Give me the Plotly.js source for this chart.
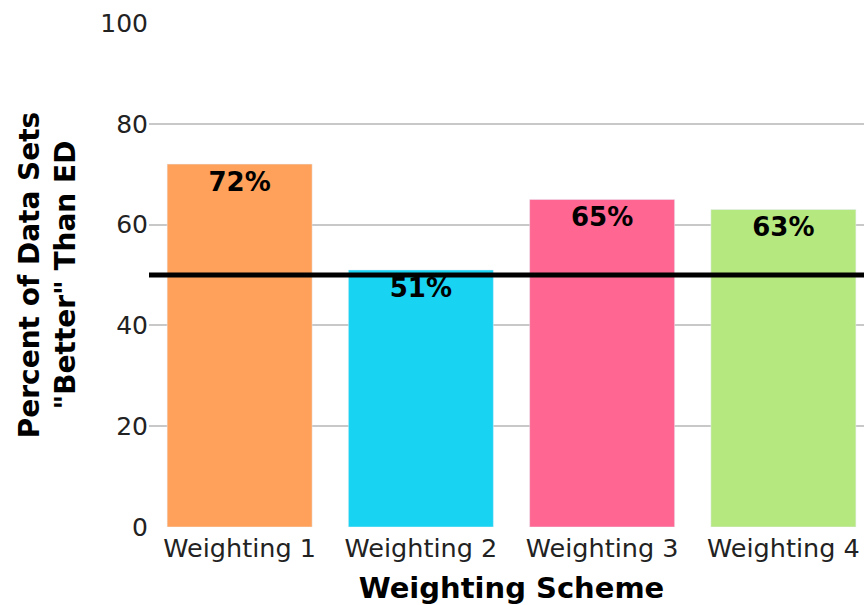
<!DOCTYPE html>
<html>
<head>
<meta charset="utf-8">
<script src="https://cdn.plot.ly/plotly-3.0.1.min.js"></script>
<style>
html, body { margin: 0; padding: 0; overflow: hidden; background: #fff; }
#chart { width: 880px; height: 605px; }
</style>
</head>
<body>
<div id="chart"></div>
<script>
const categories = ["Weighting 1", "Weighting 2", "Weighting 3", "Weighting 4"];
const percentBetter = [72, 51, 65, 63];
const barColors = ["#FFA15A", "#19D3F3", "#FF6692", "#B6E880"];
const yTickVals = [0, 20, 40, 60, 80, 100];
const gridVals = [20, 40, 60, 80];
const referenceLevel = [50];

const FONT = "DejaVu Sans, Verdana, sans-serif";

const traces = [{
  type: "bar",
  x: categories,
  y: percentBetter,
  marker: { color: barColors, line: { color: "#E5ECF6", width: 0.5 } },
  texttemplate: "%{y}%",
  textposition: "inside",
  insidetextanchor: "end",
  textangle: 0,
  textfont: { family: FONT, size: 26, color: "#000", weight: "bold" },
  showlegend: false,
  hoverinfo: "none"
}, {
  type: "scatter",
  x: [categories[0]],
  y: [null],
  yaxis: "y2",
  showlegend: false,
  hoverinfo: "none"
}];

const layout = {
  width: 880,
  height: 605,
  margin: { l: 149, r: 6, t: 23, b: 78 },
  paper_bgcolor: "#fff",
  plot_bgcolor: "#fff",
  bargap: 0.2,
  font: { family: FONT, color: "#222" },
  xaxis: {
    type: "category",
    tickfont: { family: FONT, size: 25.5, color: "#222" },
    ticklabelstandoff: 3,
    showgrid: false,
    showline: false,
    zeroline: false,
    title: { text: "<b>Weighting Scheme</b>", font: { family: FONT, size: 29, color: "#000" }, standoff: 17 }
  },
  yaxis: {
    range: [0, 100],
    tickvals: yTickVals,
    tickfont: { family: FONT, size: 25, color: "#222" },
    showgrid: false,
    zeroline: false,
    showline: false,
    ticks: "",
    title: { text: "<b>Percent of Data Sets<br>\"Better\" Than ED</b>", font: { family: FONT, size: 28, color: "#000" }, standoff: 16 }
  },
  yaxis2: {
    overlaying: "y",
    range: [0, 100],
    tickvals: gridVals,
    showticklabels: false,
    showgrid: true,
    gridcolor: "#C8C8C8",
    gridwidth: 2,
    zeroline: false,
    showline: false,
    ticks: ""
  },
  shapes: [{
    type: "line",
    xref: "paper",
    yref: "y",
    x0: 0,
    x1: 1,
    y0: referenceLevel[0],
    y1: referenceLevel[0],
    line: { color: "#000", width: 5 },
    layer: "above"
  }]
};

Plotly.newPlot("chart", traces, layout, { displayModeBar: false, staticPlot: true });
</script>
</body>
</html>
